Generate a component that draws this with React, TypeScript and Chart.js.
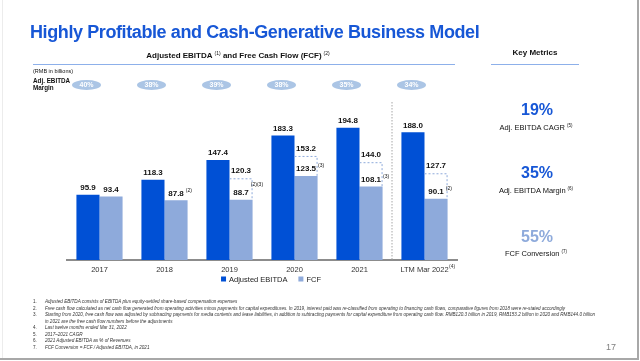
import React, { useEffect, useRef } from "react";
import { Chart, registerables } from "chart.js";

Chart.register(...registerables);

const categories = ["2017", "2018", "2019", "2020", "2021", "LTM Mar 2022"];
const categoryNotes = ["", "", "", "", "", "(4)"];
const ebitda = [95.9, 118.3, 147.4, 183.3, 194.8, 188.0];
const fcf = [93.4, 87.8, 88.7, 123.5, 108.1, 90.1];
const fcfNotes = ["", "(2)", "(2)(3)", "(3)", "(3)", "(2)"];
const fcfBeforeAdj: (number | null)[] = [null, null, 120.3, 153.2, 144.0, 127.7];
const margins = ["40%", "38%", "39%", "38%", "35%", "34%"];

const footnotes = [
  "Adjusted EBITDA consists of EBITDA plus equity-settled share-based compensation expenses",
  "Free cash flow calculated as net cash flow generated from operating activities minus payments for capital expenditures. In 2019, interest paid was re-classified from operating to financing cash flows, comparative figures from 2018 were re-stated accordingly",
  "Starting from 2020, free cash flow was adjusted by subtracting payments for media contents and lease liabilities, in addition to subtracting payments for capital expenditure from operating cash flow. RMB120.3 billion in 2019, RMB153.2 billion in 2020 and RMB144.0 billion|in 2021 are the free cash flow numbers before the adjustments",
  "Last twelve months ended Mar 31, 2022",
  "2017\u20132021 CAGR",
  "2021 Adjusted EBITDA as % of Revenues",
  "FCF Conversion = FCF / Adjusted EBITDA, in 2021",
];

const F = "'Liberation Sans', Arial, Helvetica, sans-serif";
const BLUE = "#1757d6";
const EBITDA_C = "#0050d5";
const FCF_C = "#8eaadb";

const marksPlugin = {
  id: "slideMarks",
  afterDatasetsDraw(chart: any) {
    const ctx = chart.ctx as CanvasRenderingContext2D;
    const xs = chart.scales.x;
    const ys = chart.scales.y;
    const area = chart.chartArea;
    const m0 = chart.getDatasetMeta(0);
    const m1 = chart.getDatasetMeta(1);
    ctx.save();

    // separator between 2021 and LTM
    const sx = (xs.getPixelForValue(4) + xs.getPixelForValue(5)) / 2;
    ctx.strokeStyle = "#a6a6a6";
    ctx.lineWidth = 1;
    ctx.setLineDash([1.5, 1.5]);
    ctx.beginPath();
    ctx.moveTo(sx, area.top + 5);
    ctx.lineTo(sx, area.bottom);
    ctx.stroke();

    // dashed boxes for FCF before adjustments
    ctx.strokeStyle = FCF_C;
    ctx.setLineDash([2, 2]);
    fcfBeforeAdj.forEach((v, i) => {
      if (v == null) return;
      const b = m1.data[i];
      const top = ys.getPixelForValue(v);
      const l = b.x - b.width / 2;
      const r = b.x + b.width / 2 - 0.5;
      ctx.beginPath();
      ctx.moveTo(l, top + 0.5);
      ctx.lineTo(r, top + 0.5);
      ctx.lineTo(r, b.y);
      ctx.stroke();
    });
    ctx.setLineDash([]);

    const label = (text: string, cx: number, cy: number, note?: string) => {
      ctx.font = `bold 8px ${F}`;
      ctx.fillStyle = "#111";
      ctx.textAlign = "center";
      ctx.textBaseline = "middle";
      ctx.fillText(text, cx, cy);
      if (note) {
        const w = ctx.measureText(text).width;
        ctx.font = `5px ${F}`;
        ctx.textAlign = "left";
        ctx.fillText(note, cx + w / 2 + 2, cy - (note.length > 3 ? 8 : 3));
      }
    };

    ebitda.forEach((v, i) => {
      const b = m0.data[i];
      label(v.toFixed(1), b.x, b.y - 7);
    });
    fcf.forEach((v, i) => {
      const b = m1.data[i];
      label(v.toFixed(1), b.x, b.y - 7, fcfNotes[i]);
      const u = fcfBeforeAdj[i];
      if (u != null) label(u.toFixed(1), b.x, ys.getPixelForValue(u) - 7);
    });

    // margin pills
    margins.forEach((m, i) => {
      const cx = xs.getPixelForValue(i) - 13;
      const cy = area.top - 12;
      ctx.fillStyle = "#abc5e5";
      ctx.beginPath();
      ctx.ellipse(cx, cy, 14.5, 5, 0, 0, Math.PI * 2);
      ctx.fill();
      ctx.fillStyle = "#ffffff";
      ctx.font = `bold 7px ${F}`;
      ctx.textAlign = "center";
      ctx.textBaseline = "middle";
      ctx.fillText(m, cx, cy + 0.5);
    });

    // category superscripts
    categories.forEach((c, i) => {
      const n = categoryNotes[i];
      if (!n) return;
      ctx.font = `7.5px ${F}`;
      const w = ctx.measureText(c).width;
      const cx = xs.getPixelForValue(i);
      const ty = xs.top + 5 + 4.5;
      ctx.font = `5px ${F}`;
      ctx.fillStyle = "#333";
      ctx.textAlign = "left";
      ctx.textBaseline = "middle";
      ctx.fillText(n, cx + w / 2 + 0.5, ty - 3);
    });

    // legend (drawn from the dataset definitions)
    const items = chart.data.datasets.map((d: any) => ({ text: d.label as string, color: d.backgroundColor as string }));
    ctx.font = `7.5px ${F}`;
    const box = 5;
    const gap = 3;
    const spacing = 11;
    const widths = items.map((it: any) => box + gap + ctx.measureText(it.text).width);
    const total = widths.reduce((a: number, b: number) => a + b, 0) + spacing * (items.length - 1);
    let lx = (area.left + area.right) / 2 + 9 - total / 2;
    const ly = area.bottom + 19;
    items.forEach((it: any, k: number) => {
      ctx.fillStyle = it.color;
      ctx.fillRect(lx, ly - box / 2, box, box);
      ctx.fillStyle = "#222";
      ctx.textAlign = "left";
      ctx.textBaseline = "middle";
      ctx.fillText(it.text, lx + box + gap, ly + 0.5);
      lx += widths[k] + spacing;
    });

    ctx.restore();
  },
};

export default function App() {
  const ref = useRef<HTMLCanvasElement>(null);

  useEffect(() => {
    if (!ref.current) return;
    const chart = new Chart(ref.current, {
      type: "bar",
      data: {
        labels: categories,
        datasets: [
          {
            label: "Adjusted EBITDA",
            data: ebitda,
            backgroundColor: EBITDA_C,
            categoryPercentage: 0.71,
            barPercentage: 1,
          },
          {
            label: "FCF",
            data: fcf,
            backgroundColor: FCF_C,
            categoryPercentage: 0.71,
            barPercentage: 1,
          },
        ],
      },
      options: {
        responsive: false,
        animation: false,
        devicePixelRatio: 1,
        layout: { padding: { left: 67, right: 183, top: 97, bottom: 82 } },
        scales: {
          x: {
            grid: { display: false, drawTicks: false },
            border: { display: true, color: "#8c8c8c", width: 2 },
            ticks: { color: "#333", font: { size: 7.5, family: F }, padding: 5 },
          },
          y: { display: false, min: 0, max: 240 },
        },
        plugins: {
          legend: { display: false },
          tooltip: { enabled: false },
        },
      },
      plugins: [marksPlugin],
    });
    return () => chart.destroy();
  }, []);

  const centered = (cx: number, cy: number, h: number, style: React.CSSProperties) =>
    ({
      position: "absolute",
      left: cx - 150,
      width: 300,
      top: cy - h / 2,
      height: h,
      lineHeight: `${h}px`,
      textAlign: "center",
      whiteSpace: "nowrap",
      ...style,
    }) as React.CSSProperties;

  const sup = (t: string, size = 5) => (
    <span style={{ fontSize: size, verticalAlign: 3, fontWeight: "normal", marginLeft: 2 }}>{t}</span>
  );

  return (
    <div
      style={{
        position: "fixed",
        left: 0,
        top: 0,
        width: 640,
        height: 361,
        background: "#fff",
        overflow: "hidden",
        fontFamily: F,
        color: "#111",
      }}
    >
      <canvas ref={ref} width={640} height={361} style={{ position: "absolute", left: 0, top: 0 }} />

      {/* frame */}
      <div style={{ position: "absolute", left: 2, top: 0, width: 1, height: 358, background: "#ececec" }} />
      <div style={{ position: "absolute", left: 637, top: 0, width: 2, height: 360, background: "#a8a8a8" }} />
      <div style={{ position: "absolute", left: 0, top: 358, width: 639, height: 2, background: "#a8a8a8" }} />

      {/* title */}
      <div
        style={{
          position: "absolute",
          left: 30,
          top: 22,
          height: 20,
          lineHeight: "20px",
          fontSize: 18,
          fontWeight: "bold",
          color: BLUE,
          letterSpacing: -0.4,
          whiteSpace: "nowrap",
        }}
      >
        Highly Profitable and Cash-Generative Business Model
      </div>

      {/* chart subtitle */}
      <div style={centered(238, 53, 10, { fontSize: 8, fontWeight: "bold" })}>
        Adjusted EBITDA{sup("(1)")} and Free Cash Flow (FCF){sup("(2)")}
      </div>
      <div style={centered(535, 53, 10, { fontSize: 8, fontWeight: "bold" })}>Key Metrics</div>
      <div style={{ position: "absolute", left: 33, top: 63.5, width: 422, height: 1, background: "#8db0ea" }} />
      <div style={{ position: "absolute", left: 491, top: 63.5, width: 88, height: 1, background: "#8db0ea" }} />

      {/* left labels */}
      <div style={{ position: "absolute", left: 33, top: 68, fontSize: 5.5, lineHeight: "6px", whiteSpace: "nowrap" }}>
        (RMB in billions)
      </div>
      <div
        style={{
          position: "absolute",
          left: 33,
          top: 76.5,
          fontSize: 6.3,
          lineHeight: "7px",
          fontWeight: "bold",
          whiteSpace: "nowrap",
        }}
      >
        Adj. EBITDA
        <br />
        Margin
      </div>

      {/* key metrics */}
      <div style={centered(537, 110, 18, { fontSize: 16, fontWeight: "bold", color: BLUE })}>19%</div>
      <div style={centered(536, 125, 9, { fontSize: 7.5 })}>Adj. EBITDA CAGR{sup("(5)", 4.5)}</div>
      <div style={centered(537, 173, 18, { fontSize: 16, fontWeight: "bold", color: BLUE })}>35%</div>
      <div style={centered(536, 188, 9, { fontSize: 7.5 })}>Adj. EBITDA Margin{sup("(6)", 4.5)}</div>
      <div style={centered(537, 237, 18, { fontSize: 16, fontWeight: "bold", color: FCF_C })}>55%</div>
      <div style={centered(536, 251, 9, { fontSize: 7.5 })}>FCF Conversion{sup("(7)", 4.5)}</div>

      {/* footnotes */}
      <div style={{ position: "absolute", left: 33, top: 299.3, fontSize: 4.6, fontStyle: "italic", color: "#333" }}>
        {footnotes.map((t, i) =>
          t.split("|").map((part, j) => (
            <div key={`${i}-${j}`} style={{ height: 6.5, lineHeight: "6.5px", whiteSpace: "nowrap" }}>
              <span style={{ display: "inline-block", width: 12, fontStyle: "normal" }}>{j === 0 ? `${i + 1}.` : ""}</span>
              {part}
            </div>
          ))
        )}
      </div>

      <div style={centered(611, 347, 10, { fontSize: 9, color: "#808080" })}>17</div>
    </div>
  );
}
